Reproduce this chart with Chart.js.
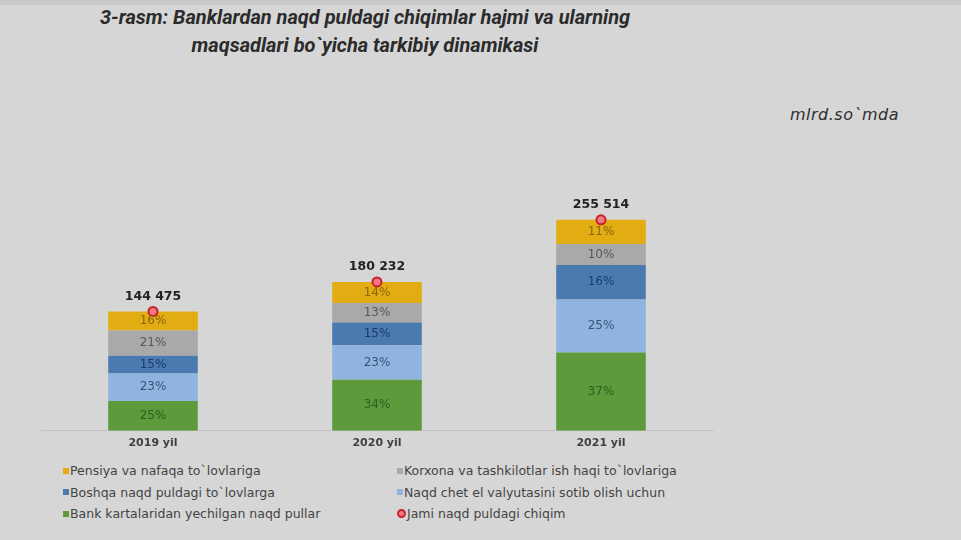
<!DOCTYPE html>
<html>
<head>
<meta charset="utf-8">
<script src="https://cdn.jsdelivr.net/npm/chart.js@4.4.1/dist/chart.umd.min.js"></script>
<style>
    body {
        margin: 0;
        width: 961px;
        height: 540px;
        background: #d6d6d6;
        overflow: hidden;
        position: relative;
        font-family: 'DejaVu Sans', sans-serif;
    }
    .top-band { position: absolute; left: 0; top: 0; width: 961px; height: 5px; background: #c9c9c9; }
    #title {
        position: absolute; left: 0; top: 3px; width: 730px;
        text-align: center; font: italic bold 20px Roboto; line-height: 28px; color: #2b2b2b;
    }
    #unit {
        position: absolute; left: 790px; top: 105px;
        font: oblique 16px 'DejaVu Sans'; letter-spacing: 0.5px; color: #2e2e2e;
    }
    #wrap { position: absolute; left: 0; top: 0; width: 730px; height: 460px; }
    #legend {
        position: absolute; left: 63px; top: 460px;
        display: grid; grid-template-columns: 334px 330px; grid-auto-rows: 21.5px;
        font-size: 12.5px; color: #444;
    }
    .item { display: flex; align-items: center; white-space: nowrap; }
    .box { width: 6px; height: 6px; margin-right: 1px; }
    .dot { width: 5px; height: 5px; border: 2px solid #c8202a; background: #f07a80; border-radius: 50%; margin-right: 1px; }
</style>
</head>
<body>
<div class="top-band"></div>
<div id="title">3-rasm: Banklardan naqd puldagi chiqimlar hajmi va ularning<br>maqsadlari bo`yicha tarkibiy dinamikasi</div>
<div id="unit">mlrd.so`mda</div>
<div id="wrap"><canvas id="chart"></canvas></div>
<div id="legend"></div>

<script>
// Data (mlrd so'm)
const years = ['2019 yil', '2020 yil', '2021 yil'];
const totals = [144475, 180232, 255514];

const bankCards = [36119, 61900, 94800];
const foreignCurrency = [33229, 41800, 64200];
const otherPayments = [21671, 27300, 41900];
const wages = [30340, 23700, 25300];
const pensions = [23116, 25532, 29314];

// Percent labels shown inside the segments
const bankCardsPct = ['25%', '34%', '37%'];
const foreignCurrencyPct = ['23%', '23%', '25%'];
const otherPaymentsPct = ['15%', '15%', '16%'];
const wagesPct = ['21%', '13%', '10%'];
const pensionsPct = ['16%', '14%', '11%'];

const totalLabels = ['144 475', '180 232', '255 514'];

// Draw percent labels and totals
const labelPlugin = {
    id: 'labels',
    afterDatasetsDraw(chart) {
        const ctx = chart.ctx;
        ctx.save();
        ctx.textAlign = 'center';
        ctx.textBaseline = 'middle';
        chart.data.datasets.forEach((ds, i) => {
            const meta = chart.getDatasetMeta(i);
            meta.data.forEach((el, j) => {
                if (ds.type === 'line') {
                    ctx.font = 'bold 12.5px "DejaVu Sans"';
                    ctx.fillStyle = '#222';
                    ctx.fillText(totalLabels[j], el.x, el.y - 15);
                } else {
                    ctx.font = '12px "DejaVu Sans"';
                    ctx.fillStyle = ds.textColor;
                    ctx.fillText(ds.pct[j], el.x, (el.y + el.base) / 2);
                }
            });
        });
        ctx.restore();
    }
};

const barDs = (label, data, pct, color, textColor) => ({
    type: 'bar', label, data, pct, textColor,
    backgroundColor: color, borderWidth: 0, order: 1,
    categoryPercentage: 1, barPercentage: 0.4
});

const chart = new Chart(document.getElementById('chart'), {
    data: {
        labels: years,
        datasets: [
            barDs('Bank kartalaridan yechilgan naqd pullar', bankCards, bankCardsPct, '#5d9a3c', '#2a5f1d'),
            barDs('Naqd chet el valyutasini sotib olish uchun', foreignCurrency, foreignCurrencyPct, '#8fb5de', '#33567c'),
            barDs('Boshqa naqd puldagi to`lovlarga', otherPayments, otherPaymentsPct, '#4a7ab0', '#1b3c69'),
            barDs('Korxona va tashkilotlar ish haqi to`lovlariga', wages, wagesPct, '#a9a9a9', '#585858'),
            barDs('Pensiya va nafaqa to`lovlariga', pensions, pensionsPct, '#e3ac12', '#86660f'),
            {
                type: 'line', label: 'Jami naqd puldagi chiqim', data: totals,
                showLine: false, order: 0,
                pointRadius: 4.5, borderWidth: 2,
                pointBackgroundColor: '#f07a80', pointBorderColor: '#c8202a'
            }
        ]
    },
    options: {
        responsive: true,
        maintainAspectRatio: false,
        animation: false,
        layout: { padding: { top: 150, left: 41, right: 17, bottom: 4 } },
        plugins: {
            legend: { display: false },
            tooltip: { enabled: false }
        },
        scales: {
            x: {
                stacked: true,
                grid: { display: false, drawTicks: false },
                border: { display: true, color: '#c2c2c2', width: 1 },
                ticks: {
                    color: '#404040',
                    padding: 6,
                    font: { family: 'DejaVu Sans', size: 11, weight: 'bold' }
                }
            },
            y: {
                stacked: true,
                display: false,
                min: 0,
                max: 340000
            }
        }
    },
    plugins: [labelPlugin]
});

// HTML legend in two columns, same order as the original
const legendOrder = [4, 3, 2, 1, 0, 5];
const legend = document.getElementById('legend');
legendOrder.forEach(i => {
    const ds = chart.data.datasets[i];
    const item = document.createElement('div');
    item.className = 'item';
    const mark = document.createElement('span');
    if (ds.type === 'line') {
        mark.className = 'dot';
    } else {
        mark.className = 'box';
        mark.style.background = ds.backgroundColor;
    }
    item.appendChild(mark);
    item.appendChild(document.createTextNode(ds.label));
    legend.appendChild(item);
});
</script>
</body>
</html>
